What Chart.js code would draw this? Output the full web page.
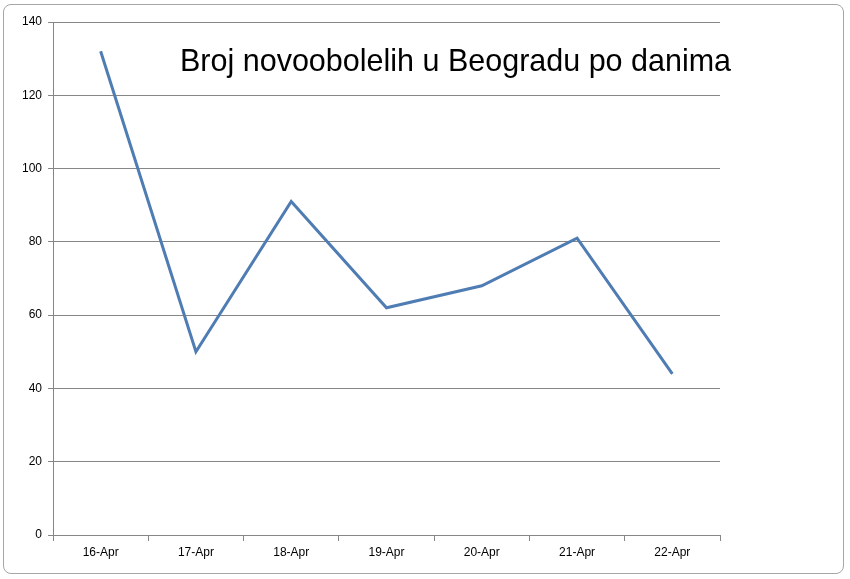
<!DOCTYPE html>
<html>
<head>
<meta charset="utf-8">
<script src="https://cdn.jsdelivr.net/npm/chart.js@4/dist/chart.umd.min.js"></script>
<style>
  body { margin: 0; background: #fff; }
  #frame { position: absolute; left: 3px; top: 4px; width: 839px; height: 568px; border: 1px solid #a6a6a6; border-radius: 8px; }
  #wrap { position: absolute; left: 0; top: 0; width: 850px; height: 579px; }
</style>
</head>
<body>
<div id="frame"></div>
<div id="wrap"><canvas id="chart"></canvas></div>
<script>
// Data
const days = ['16-Apr', '17-Apr', '18-Apr', '19-Apr', '20-Apr', '21-Apr', '22-Apr'];
const newCases = [132, 50, 91, 62, 68, 81, 44];
const chartTitle = 'Broj novoobolelih u Beogradu po danima';

// Title sits inside the plot area, like in Excel
const titlePlugin = {
    id: 'innerTitle',
    afterDraw(chart) {
        const ctx = chart.ctx;
        ctx.save();
        ctx.font = '30.5px "Liberation Sans", Arial, sans-serif';
        ctx.fillStyle = '#000';
        ctx.textBaseline = 'alphabetic';
        ctx.fillText(chartTitle, 180, 71);
        ctx.restore();
    }
};

const ctx = document.getElementById('chart').getContext('2d');
new Chart(ctx, {
    type: 'line',
    data: {
        labels: days,
        datasets: [{
            data: newCases,
            borderColor: '#4f7db3',
            borderWidth: 3,
            pointRadius: 0,
            tension: 0,
            fill: false
        }]
    },
    options: {
        responsive: true,
        maintainAspectRatio: false,
        animation: false,
        layout: { padding: { left: 0, right: 130, top: 22, bottom: 0 } },
        plugins: { legend: { display: false }, tooltip: { enabled: false } },
        scales: {
            x: {
                offset: true,
                grid: { offset: true, drawOnChartArea: false, drawTicks: true, tickLength: 6, color: '#868686' },
                border: { display: false },
                ticks: { color: '#000', font: { family: '"Liberation Sans", Arial', size: 12 }, padding: 4, maxRotation: 0 },
                afterFit(scale) { scale.height = 44; }
            },
            y: {
                min: 0,
                max: 140,
                ticks: { stepSize: 20, color: '#000', font: { family: '"Liberation Sans", Arial', size: 12 }, padding: 6 },
                grid: { color: '#868686', tickLength: 5 },
                border: { display: true, color: '#868686' },
                afterFit(scale) { scale.width = 53; }
            }
        }
    },
    plugins: [titlePlugin]
});
</script>
</body>
</html>
